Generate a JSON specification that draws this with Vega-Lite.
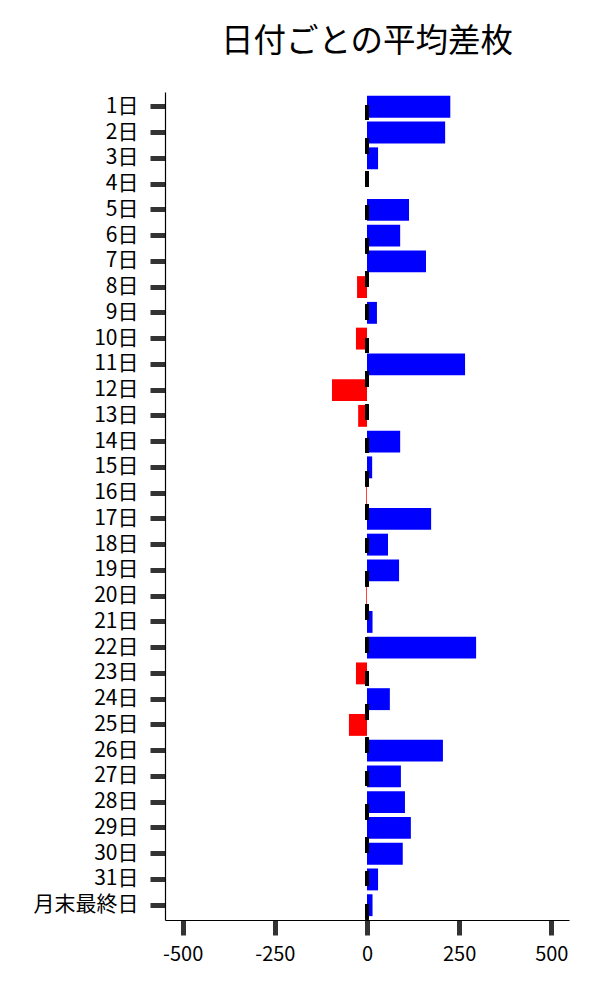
{
  "$schema": "https://vega.github.io/schema/vega-lite/v6.json",
  "autosize": {"type": "none"},
  "padding": {"left": 165, "top": 92, "right": 31, "bottom": 80},
  "width": 404,
  "height": 828,
  "title": {"text": "日付ごとの平均差枚", "fontSize": 32.5, "font": "Noto Sans CJK JP", "fontWeight": "normal", "color": "black", "anchor": "middle", "offset": 32},
  "config": {
    "view": {"stroke": null},
    "axis": {
      "grid": false,
      "domainColor": "black",
      "domainWidth": 1.2,
      "tickColor": "#333333",
      "tickWidth": 5,
      "tickSize": 15,
      "labelColor": "black",
      "labelFont": "Noto Sans CJK JP",
      "labelFontSize": 20,
      "title": null
    }
  },
  "data": {
    "values": [
      {"day": "1日", "value": 226},
      {"day": "2日", "value": 212},
      {"day": "3日", "value": 30},
      {"day": "4日", "value": 0},
      {"day": "5日", "value": 114},
      {"day": "6日", "value": 90},
      {"day": "7日", "value": 160},
      {"day": "8日", "value": -27},
      {"day": "9日", "value": 27},
      {"day": "10日", "value": -30},
      {"day": "11日", "value": 266},
      {"day": "12日", "value": -95},
      {"day": "13日", "value": -24},
      {"day": "14日", "value": 90},
      {"day": "15日", "value": 14},
      {"day": "16日", "value": -2},
      {"day": "17日", "value": 174},
      {"day": "18日", "value": 57},
      {"day": "19日", "value": 87},
      {"day": "20日", "value": -2},
      {"day": "21日", "value": 15},
      {"day": "22日", "value": 296},
      {"day": "23日", "value": -30},
      {"day": "24日", "value": 62},
      {"day": "25日", "value": -49},
      {"day": "26日", "value": 206},
      {"day": "27日", "value": 92},
      {"day": "28日", "value": 103},
      {"day": "29日", "value": 119},
      {"day": "30日", "value": 97},
      {"day": "31日", "value": 30},
      {"day": "月末最終日", "value": 15}
    ]
  },
  "layer": [
    {
      "mark": {"type": "bar"},
      "encoding": {
        "y": {
          "field": "day",
          "type": "nominal",
          "sort": null,
          "scale": {"paddingInner": 0.15, "paddingOuter": 0.15},
          "axis": {"labelPadding": 12, "labelFontSize": 21}
        },
        "x": {
          "field": "value",
          "type": "quantitative",
          "scale": {"domain": [-548, 548], "nice": false, "zero": false},
          "axis": {"values": [-500, -250, 0, 250, 500], "labelExpr": "toString(datum.value)", "labelPadding": 9}
        },
        "color": {"condition": {"test": "datum.value < 0", "value": "#ff0000"}, "value": "#0000ff"}
      }
    },
    {
      "mark": {"type": "rule", "color": "black", "strokeWidth": 2.5, "strokeDash": [15, 18.3], "strokeDashOffset": 20.3},
      "encoding": {"x": {"datum": 0}}
    }
  ]
}
